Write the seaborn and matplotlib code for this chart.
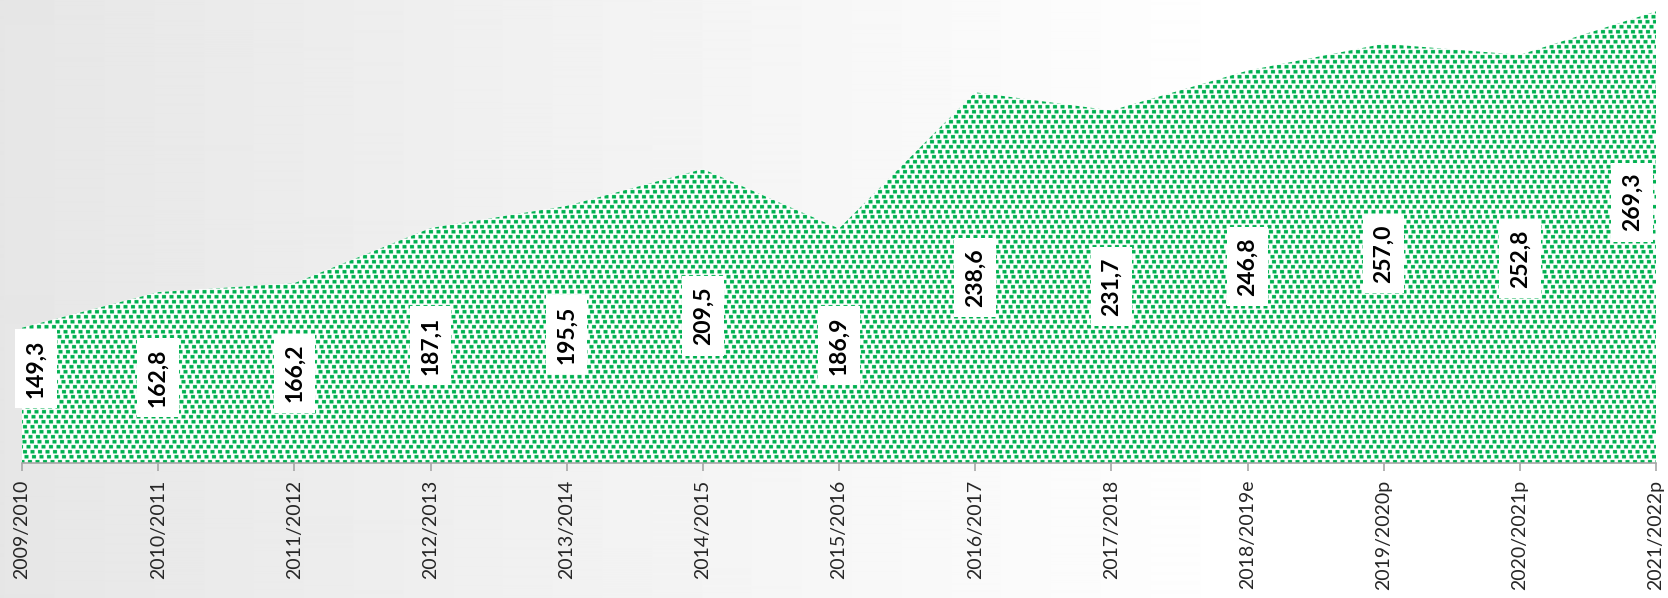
import numpy as np
import pandas as pd
import matplotlib
matplotlib.use("Agg")
import matplotlib.pyplot as plt
import seaborn as sns
from matplotlib.path import Path
from matplotlib.patches import PathPatch

# Seasons and production values
seasons = ["2009/2010", "2010/2011", "2011/2012", "2012/2013", "2013/2014",
           "2014/2015", "2015/2016", "2016/2017", "2017/2018", "2018/2019e",
           "2019/2020p", "2020/2021p", "2021/2022p"]
production = [149.3, 162.8, 166.2, 187.1, 195.5, 209.5, 186.9,
              238.6, 231.7, 246.8, 257.0, 252.8, 269.3]

GREEN = "#00B050"
Y_MIN, Y_MAX = 98, 273.6

sns.set_theme(style="white")
plt.rcParams["font.family"] = ["Lato", "DejaVu Sans"]

W, H, DPI = 1668, 598, 100
fig = plt.figure(figsize=(W / DPI, H / DPI), dpi=DPI)

# soft grey-to-white horizontal background
bg = fig.add_axes([0, 0, 1, 1], zorder=-10)
xs = np.arange(W)
grad = np.clip(230 + 0.02 * xs, 0, 255) / 255.0
bg.imshow(np.tile(grad, (2, 1)), cmap="gray", vmin=0, vmax=1, aspect="auto",
          extent=[0, 1, 0, 1], interpolation="bilinear")
bg.axis("off")

# plot area
AX_L, AX_R, AX_B = 22, 1656, 463
ax = fig.add_axes([AX_L / W, (H - AX_B) / H, (AX_R - AX_L) / W, AX_B / H])
ax.patch.set_alpha(0)

n = len(seasons)
df = pd.DataFrame({"season": seasons, "value": production, "pos": np.arange(n)})
sns.lineplot(data=df, x="pos", y="value", ax=ax, color=GREEN, linewidth=0)

ax.set_xlim(0, n - 1)
ax.set_ylim(Y_MIN, Y_MAX)

# area outline as a clip path with white background
verts = [(0, Y_MIN)] + list(zip(df["pos"], df["value"])) + [(n - 1, Y_MIN), (0, Y_MIN)]
area = PathPatch(Path(verts, closed=True), transform=ax.transData,
                 facecolor="white", edgecolor="none", zorder=1)
ax.add_patch(area)

# confetti texture of small green squares, built at double resolution
S = 2
pw, ph = (AX_R - AX_L) * S, AX_B * S
tex = np.ones((ph, pw, 3))
g = np.array([0, 176, 80]) / 255.0
jitter = [0, 2, -1, 1, -2, 0, 2, -1, 0, 1, -2, 1]
row_step, col_step, sq = 10, 15, 7
k = 0
for y0 in range(0, ph, row_step):
    shift = (k * 6 + jitter[k % len(jitter)]) % col_step
    for c in range(-col_step + shift, pw, col_step):
        c0, c1 = max(c, 0), min(c + sq + 1, pw)
        if c1 > c0:
            tex[y0:min(y0 + sq, ph), c0:c1] = g
    k += 1
img = ax.imshow(tex, extent=[0, n - 1, Y_MIN, Y_MAX], aspect="auto",
                interpolation="antialiased", zorder=2)
img.set_clip_path(area)

# value labels (end labels nudged inside the plot area)
px = 72.0 / DPI
nudges = {0: (14, 27), n - 1: (-24, 35)}
for i, v in enumerate(production):
    dx, dy = nudges.get(i, (0, 0))
    ax.annotate(f"{v:.1f}".replace(".", ","), xy=(i, (Y_MIN + v) / 2),
                xytext=(dx * px, dy * px), textcoords="offset points",
                rotation=90, ha="center", va="center", fontsize=16.5,
                fontweight="bold", color="black", zorder=5,
                bbox=dict(boxstyle="square,pad=0.45", fc="white", ec="none"))

# axes styling
ax.set_xticks(df["pos"])
ax.set_xticklabels(seasons, rotation=90, fontsize=14, color="#262626")
ax.tick_params(axis="x", direction="out", length=6, width=1.2,
               color="#a6a6a6", pad=6, bottom=True)
ax.set_yticks([])
ax.set_xlabel("")
ax.set_ylabel("")
for side in ("top", "left", "right"):
    ax.spines[side].set_visible(False)
ax.spines["bottom"].set_color("#a6a6a6")
ax.spines["bottom"].set_linewidth(1.2)
ax.spines["bottom"].set_zorder(6)

fig.savefig("out.png", dpi=DPI)
